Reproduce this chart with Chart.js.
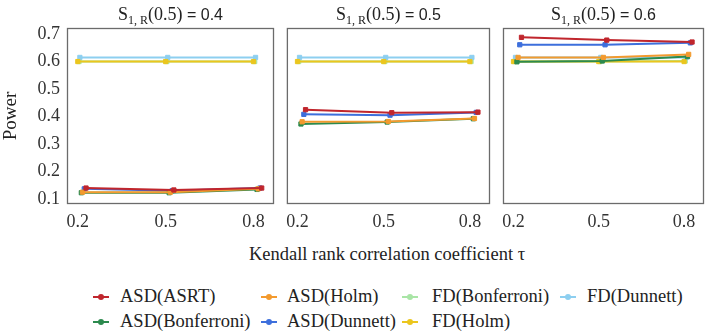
<!DOCTYPE html>
<html>
<head>
<meta charset="utf-8">
<script src="https://cdn.jsdelivr.net/npm/chart.js@4.4.0/dist/chart.umd.min.js"></script>
<style>
  body { margin: 0; background: #fff; }
  #wrap { position: relative; width: 709px; height: 335px; overflow: hidden; font-family: "Liberation Serif", "Times New Roman", serif; color: #222; }
  #wrap canvas { position: absolute; top: 0; }
  #xtitle { position: absolute; left: 0; width: 774px; top: 244px; text-align: center; font-size: 18.5px; line-height: 21px; }
  .lg { position: absolute; font-size: 18.5px; line-height: 20px; white-space: nowrap; }
  .sym { position: absolute; width: 16px; height: 2px; }
  .sym i { position: absolute; left: 5px; top: -2px; width: 6px; height: 6px; border-radius: 3px; }
</style>
</head>
<body>
<div id="wrap">
  <canvas id="p0" width="279" height="232" style="left:0px"></canvas>
  <canvas id="p1" width="216" height="232" style="left:279px"></canvas>
  <canvas id="p2" width="214" height="232" style="left:495px"></canvas>
  <div id="xtitle">Kendall rank correlation coefficient τ</div>
  <div id="legend"></div>
</div>
<script>
// données
const tau = [0.2, 0.5, 0.8];
const tauTicks = [0.2, 0.5, 0.8];
const powerTicks = [0.1, 0.2, 0.3, 0.4, 0.5, 0.6, 0.7];
const panelS = ['0.4', '0.5', '0.6'];
const seriesNames = ['ASD(ASRT)', 'ASD(Bonferroni)', 'ASD(Holm)', 'ASD(Dunnett)', 'FD(Bonferroni)', 'FD(Holm)', 'FD(Dunnett)'];

// une ligne par panneau (S = 0.4, 0.5, 0.6), valeurs pour tau = 0.2 / 0.5 / 0.8
const asdAsrt = [[0.140, 0.133, 0.140], [0.425, 0.414, 0.416], [0.688, 0.678, 0.671]];
const asdBonf = [[0.123, 0.123, 0.135], [0.373, 0.380, 0.392], [0.599, 0.602, 0.618]];
const asdHolm = [[0.125, 0.125, 0.137], [0.381, 0.382, 0.393], [0.615, 0.615, 0.626]];
const asdDunn = [[0.137, 0.130, 0.140], [0.408, 0.405, 0.415], [0.661, 0.661, 0.668]];
const fdBonf  = [[0.600, 0.600, 0.600], [0.600, 0.600, 0.600], [0.600, 0.600, 0.602]];
const fdHolm  = [[0.600, 0.600, 0.600], [0.600, 0.600, 0.600], [0.600, 0.600, 0.600]];
const fdDunn  = [[0.615, 0.615, 0.615], [0.615, 0.615, 0.615], [0.615, 0.615, 0.615]];

const seriesValues = [asdAsrt, asdBonf, asdHolm, asdDunn, fdBonf, fdHolm, fdDunn];
const seriesColors = ['#c0262d', '#2c8a4e', '#f39a2e', '#3d6fdc', '#a9e5a6', '#ebc61e', '#8dcff0'];
// ordre de dessin (petit = dessus) et petit décalage horizontal (position_dodge)
const drawOrder = [0, 2, 1, 3, 6, 4, 5];
const dodge = [0.028, 0.012, 0.016, 0.022, 0.004, 0.0, 0.007];

const serif = '"Liberation Serif", "Times New Roman", serif';

// cadre gris autour de chaque panneau
const framePlugin = {
  id: 'frame',
  afterDraw(chart) {
    const a = chart.chartArea, ctx = chart.ctx;
    ctx.save();
    ctx.strokeStyle = '#6b6b6b';
    ctx.lineWidth = 1.3;
    ctx.strokeRect(a.left + 0.5, a.top + 0.5, a.right - a.left - 1, a.bottom - a.top - 1);
    ctx.restore();
  }
};

// titre S_{1,R}(0.5) = x avec indice
const stripPlugin = {
  id: 'strip',
  afterDraw(chart, args, opts) {
    const ctx = chart.ctx, a = chart.chartArea;
    const parts = [
      ['S', '18px ' + serif, 0],
      ['1, R', '12px ' + serif, 4],
      ['(0.5)', '18px ' + serif, 0],
      [' = ' + opts.value, '16px "Liberation Sans", sans-serif', 0]
    ];
    ctx.save();
    ctx.fillStyle = '#222';
    ctx.textBaseline = 'alphabetic';
    let w = 0;
    parts.forEach(p => { ctx.font = p[1]; w += ctx.measureText(p[0]).width; });
    let x = (a.left + a.right) / 2 - w / 2;
    parts.forEach(p => {
      ctx.font = p[1];
      ctx.fillText(p[0], x, 20 + p[2]);
      x += ctx.measureText(p[0]).width;
    });
    ctx.restore();
  }
};

function makePanel(idx, pad) {
  const datasets = seriesNames.map((name, i) => ({
    label: name,
    data: tau.map((t, j) => ({ x: t + dodge[i], y: seriesValues[i][idx][j] })),
    order: drawOrder[i],
    borderColor: seriesColors[i],
    backgroundColor: seriesColors[i],
    borderWidth: 2,
    pointStyle: 'rect',
    pointRadius: 3,
    pointBorderWidth: 1,
    tension: 0
  }));

  new Chart(document.getElementById('p' + idx), {
    type: 'line',
    data: { datasets: datasets },
    plugins: [framePlugin, stripPlugin],
    options: {
      responsive: false,
      devicePixelRatio: 1,
      animation: false,
      layout: { padding: { top: 28, left: pad.left, right: pad.right, bottom: 0 } },
      plugins: {
        legend: { display: false },
        tooltip: { enabled: false },
        strip: { value: panelS[idx] }
      },
      scales: {
        x: {
          type: 'linear',
          min: 0.163,
          max: 0.87,
          grid: { display: false, drawTicks: false },
          border: { display: false },
          afterBuildTicks: s => { s.ticks = tauTicks.map(v => ({ value: v })); },
          afterFit: s => { s.height = 28; },
          ticks: {
            padding: 7,
            color: '#333',
            font: { family: serif, size: 18 },
            callback: v => v.toFixed(1)
          }
        },
        y: {
          display: idx === 0,
          min: 0.082,
          max: 0.722,
          grid: { display: false, drawTicks: false },
          border: { display: false },
          afterBuildTicks: s => { s.ticks = powerTicks.map(v => ({ value: v })); },
          afterFit: s => { s.width = idx === 0 ? 67 : 0; },
          title: {
            display: true,
            text: 'Power',
            color: '#222',
            padding: { top: 0, bottom: 0 },
            font: { family: serif, size: 19 }
          },
          ticks: {
            padding: 7,
            color: '#333',
            font: { family: serif, size: 18 },
            callback: v => v.toFixed(1)
          }
        }
      }
    }
  });
}

makePanel(0, { left: 0, right: 4 });
makePanel(1, { left: 4, right: 4 });
makePanel(2, { left: 3, right: 2 });

// légende commune en HTML
const legendOrder = [0, 2, 4, 6, 1, 3, 5];
const legendSymX = [101, 269, 410, 568];
const legendTextX = [120, 287, 432, 587];
const legendRowY = [297, 322];
const legendEl = document.getElementById('legend');
legendOrder.forEach((si, k) => {
  const row = k < 4 ? 0 : 1;
  const col = k < 4 ? k : k - 4;
  const sym = document.createElement('div');
  sym.className = 'sym';
  sym.style.left = (legendSymX[col] - 8) + 'px';
  sym.style.top = (legendRowY[row] - 1) + 'px';
  sym.style.background = seriesColors[si];
  const dot = document.createElement('i');
  dot.style.background = seriesColors[si];
  sym.appendChild(dot);
  const txt = document.createElement('div');
  txt.className = 'lg';
  txt.style.left = legendTextX[col] + 'px';
  txt.style.top = (legendRowY[row] - 11) + 'px';
  txt.textContent = seriesNames[si];
  legendEl.appendChild(sym);
  legendEl.appendChild(txt);
});
</script>
</body>
</html>
